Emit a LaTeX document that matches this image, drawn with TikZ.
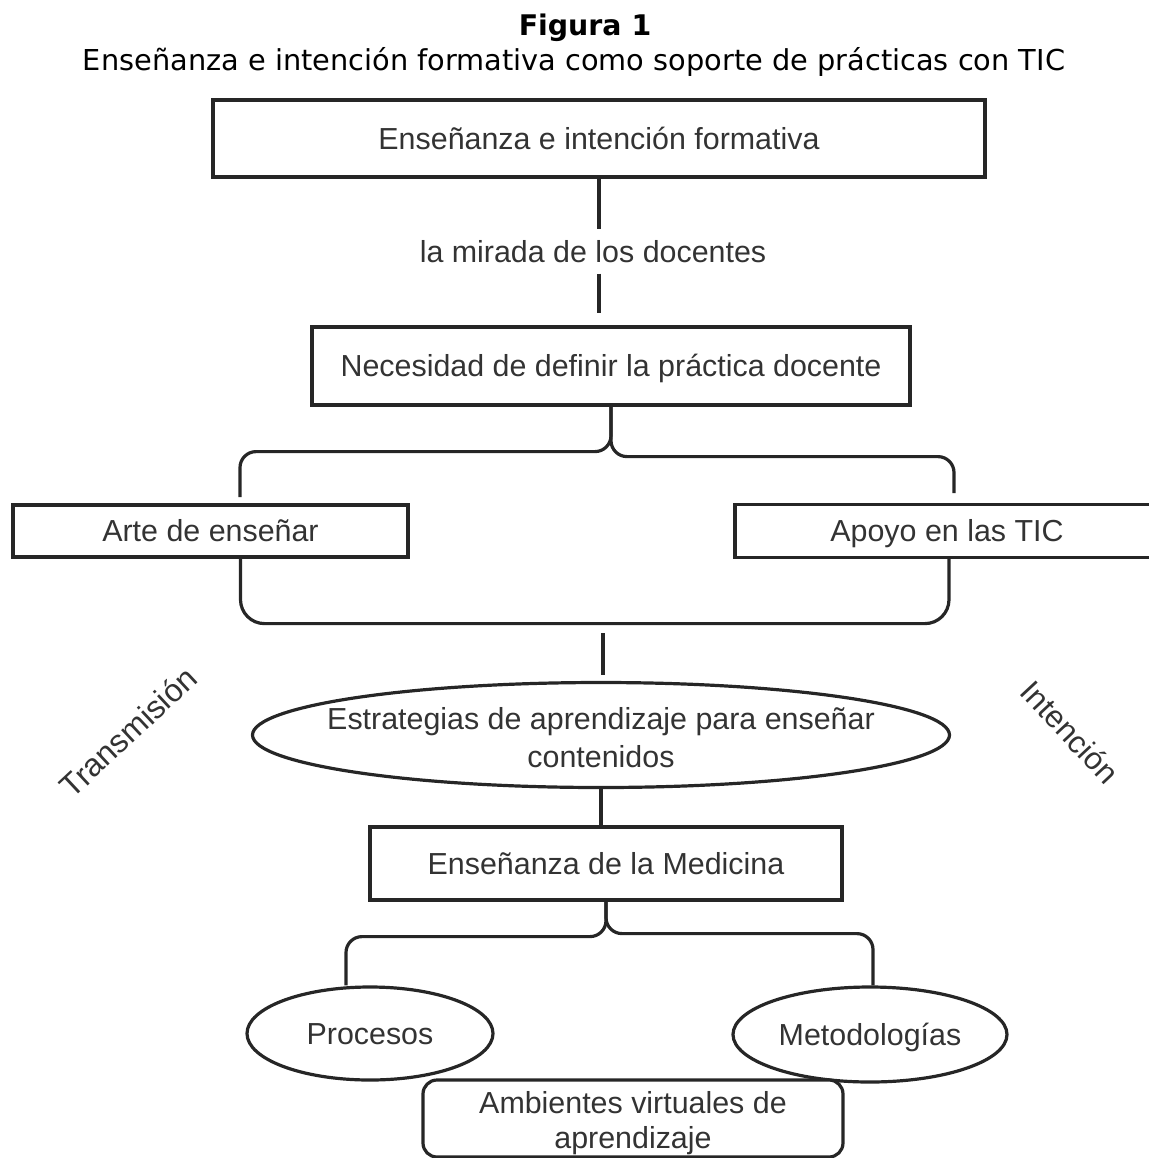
\documentclass[tikz,border=0pt]{standalone}
\usepackage{fontspec}
\setmainfont{Liberation Sans}
\newfontfamily\titlefont{DejaVu Sans}
\usetikzlibrary{shapes.geometric}

\definecolor{txtgray}{HTML}{333333}
\definecolor{linegray}{HTML}{262626}

\tikzset{
  lbl/.style={text=txtgray, font=\fontsize{15.2}{18}\selectfont, inner sep=0pt},
  uno/.style={text height=14.1pt, text depth=3.2pt},
  caja/.style={lbl, draw=linegray, line width=1.6pt},
  ovalo/.style={ellipse, draw=linegray, line width=1.6pt, inner sep=0pt},
  link/.style={draw=linegray, line width=1.6pt, rounded corners=6pt},
}

\begin{document}
\begin{tikzpicture}[x=0.5pt, y=-0.5pt]
	\useasboundingbox (0,0) rectangle (1149,1158);
	% title
	\node[anchor=base, font=\titlefont\bfseries\fontsize{14.2}{16}\selectfont] (fig) at (585,35) {Figura 1};
	\node[anchor=base, font=\titlefont\fontsize{14.4}{16}\selectfont] (subt) at (574,70) {Enseñanza e intención formativa como soporte de prácticas con TIC};
	% top boxes
	\node[caja, uno, minimum width=386pt, minimum height=38.5pt] (top) at (599,138.5) {Enseñanza e intención formativa};
	\node[lbl, inner ysep=5.25pt] (mirada) at (593,251.5) {la mirada de los docentes};
	\node[caja, uno, minimum width=299pt, minimum height=39pt] (nec) at (611,366) {Necesidad de definir la práctica docente};
	\coordinate (nectop) at (599,313);
	\draw[link] (top.south) -- (top.south |- mirada.north);
	\draw[link] (top.south |- mirada.south) -- (nectop);
	% two branches
	\node[caja, uno, minimum width=197.5pt, minimum height=26pt] (arte) at (210.5,531) {Arte de enseñar};
	\node[caja, uno, minimum width=212pt, minimum height=26.5pt] (apoyo) at (947,531) {Apoyo en las TIC};
	\coordinate (artetop) at (240,497);
	\coordinate (apoyotop) at (954,493);
	\draw[link, rounded corners=8pt] (nec.south) -- ++(0,45) -| (artetop);
	\draw[link, rounded corners=8pt] (nec.south) -- ++(0,50) -| (apoyotop);
	\draw[link, rounded corners=12pt] ([xshift=15pt]arte.south) -- ++(0,65) -| ([xshift=1pt]apoyo.south);
	% side words
	\node[lbl, font=\fontsize{16}{18}\selectfont] (trans) at (128,732) [rotate=43] {Transmisión};
	\node[lbl, font=\fontsize{15.6}{18}\selectfont] (inten) at (1070,732) [rotate=-47] {Intención};
	% strategies
	\node[ovalo, minimum width=348.5pt, minimum height=52.5pt,
	  label={[lbl, align=center, yshift=-1.5pt, font=\fontsize{15.2}{19}\selectfont]center:Estrategias de aprendizaje para enseñar\\contenidos}] (strat) at (601,735) {};
	\coordinate (bracemid) at (603,633);
	\draw[link, shorten >=3pt] (bracemid) -- (bracemid |- strat.north);
	\node[caja, uno, minimum width=236pt, minimum height=36.5pt] (med) at (606,863.5) {Enseñanza de la Medicina};
	\draw[link] (strat.south) -- (strat.south |- med.north);
	% bottom
	\node[ovalo, lbl, uno, draw=linegray, line width=1.6pt, minimum width=123pt, minimum height=46.5pt] (proc) at (370,1033.5) {Procesos};
	\node[ovalo, lbl, uno, draw=linegray, line width=1.6pt, minimum width=137pt, minimum height=47.5pt] (metod) at (870,1034.5) {Metodologías};
	\draw[link, rounded corners=8pt] (med.south) -- ++(0,35) -| ([xshift=-12pt]proc.north);
	\draw[link, rounded corners=8pt] (med.south) -- ++(0,32) -| ([xshift=1.5pt]metod.north);
	\node[caja, rounded corners=7pt, minimum width=210pt, minimum height=38.5pt, fill=white,
	  label={[lbl, align=center, yshift=-2.5pt, font=\fontsize{15.2}{17.5}\selectfont]center:Ambientes virtuales de\\aprendizaje}] (amb) at (633,1118.5) {};
\end{tikzpicture}
\end{document}
